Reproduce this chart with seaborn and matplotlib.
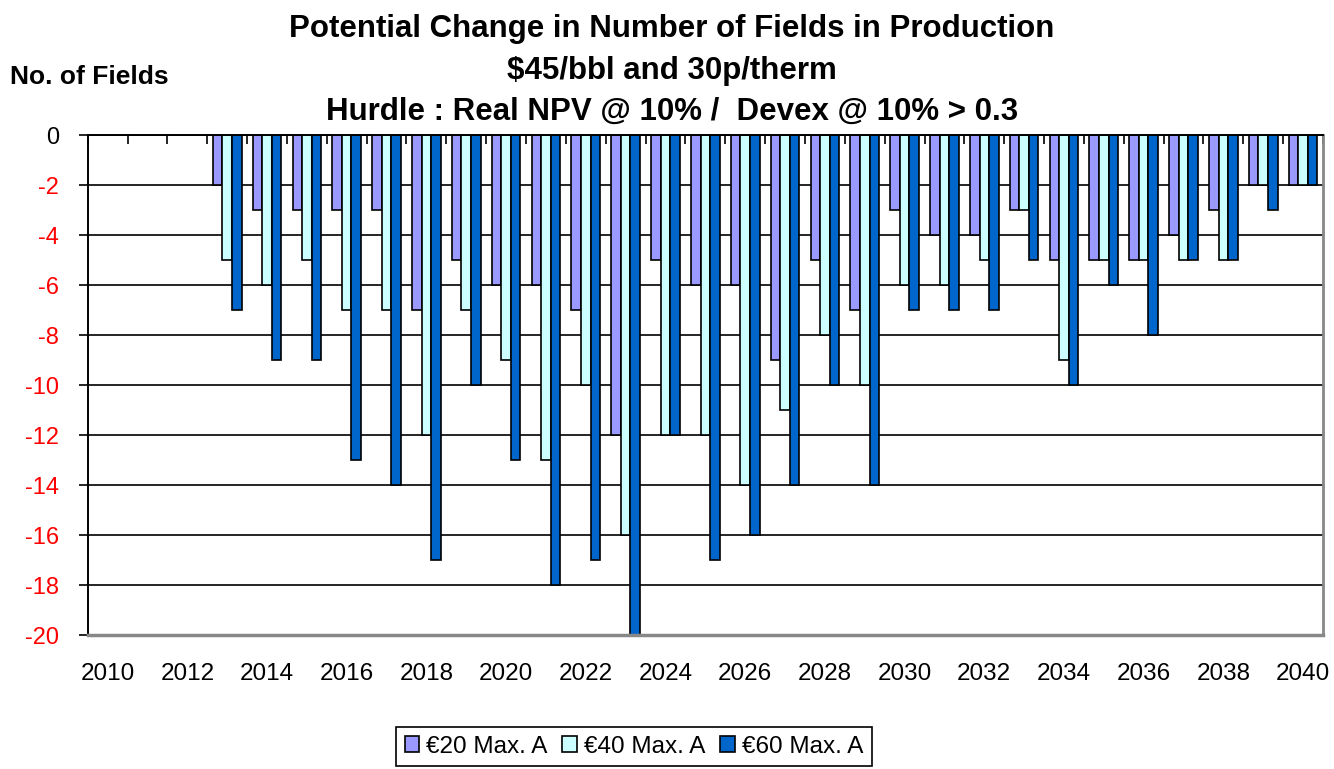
"""Potential change in number of fields in production, three price cases."""

import matplotlib

matplotlib.use("Agg")
import matplotlib.pyplot as plt
import numpy as np
import pandas as pd
import seaborn as sns

YEARS = list(range(2010, 2041))
SERIES = ["€20 Max. A", "€40 Max. A", "€60 Max. A"]
EUR20 = [0, 0, 0, -2, -3, -3, -3, -3, -7, -5, -6, -6, -7, -12, -5, -6,
         -6, -9, -5, -7, -3, -4, -4, -3, -5, -5, -5, -4, -3, -2, -2]
EUR40 = [0, 0, 0, -5, -6, -5, -7, -7, -12, -7, -9, -13, -10, -16, -12, -12,
         -14, -11, -8, -10, -6, -6, -5, -3, -9, -5, -5, -5, -5, -2, -2]
EUR60 = [0, 0, 0, -7, -9, -9, -13, -14, -17, -10, -13, -18, -17, -20, -12, -17,
         -16, -14, -10, -14, -7, -7, -7, -5, -10, -6, -8, -5, -5, -3, -2]
Y_TICKS = list(range(0, -21, -2))
COLORS = ["#9999FF", "#CCFFFF", "#0066CC"]


def main() -> None:
    sns.set_theme(style="white")
    plt.rcParams["font.family"] = ["Liberation Sans", "DejaVu Sans"]
    plt.rcParams.update({"text.color": "black", "xtick.color": "black",
                         "ytick.color": "black", "axes.labelcolor": "black"})

    frames = []
    for name, values in zip(SERIES, [EUR20, EUR40, EUR60]):
        frames.append(pd.DataFrame({"Year": YEARS, "Series": name, "Fields": values}))
    data = pd.concat(frames, ignore_index=True)

    fig = plt.figure(figsize=(13.34, 7.69), dpi=100)
    ax = fig.add_axes([87.7 / 1334, 1 - 635 / 769, (1323 - 87.7) / 1334, 500 / 769])

    sns.barplot(data=data, x="Year", y="Fields", hue="Series", palette=COLORS,
                width=0.72, edgecolor="black", linewidth=1.2, errorbar=None,
                saturation=1, ax=ax)

    ax.set_xlim(-0.5, len(YEARS) - 0.5)
    ax.set_ylim(-20, 0)
    ax.set_xlabel("")
    ax.set_ylabel("")

    # horizontal gridlines every 2 fields
    ax.set_yticks(Y_TICKS)
    ax.set_yticklabels([str(v) for v in Y_TICKS], fontsize=17)
    for lab, v in zip(ax.get_yticklabels(), Y_TICKS):
        lab.set_color("black" if v == 0 else "red")
    ax.yaxis.grid(True, color="black", linewidth=1.2)
    ax.set_axisbelow(True)
    ax.tick_params(axis="y", left=True, direction="out", length=6.5, width=1.2,
                   color="black", pad=14)

    ax.set_xticks(range(0, len(YEARS), 2))
    ax.set_xticklabels([str(y) for y in YEARS[::2]], fontsize=17.5)
    ax.set_xticks(np.arange(-0.5, len(YEARS), 1), minor=True)
    ax.tick_params(axis="x", which="major", bottom=True, top=False, length=0, pad=20)
    ax.tick_params(axis="x", which="minor", bottom=False, top=True, direction="in",
                   length=6.5, width=1.2, color="black")

    for side in ["left", "top"]:
        ax.spines[side].set_color("black")
        ax.spines[side].set_linewidth(1.4)
    ax.spines["bottom"].set_color("#888888")
    ax.spines["bottom"].set_linewidth(2.5)
    ax.spines["right"].set_color("#888888")
    ax.spines["right"].set_linewidth(2.0)

    handles, labels = ax.get_legend_handles_labels()
    ax.get_legend().remove()
    leg = fig.legend(handles, labels, loc="upper center", ncol=3,
                     bbox_to_anchor=(634 / 1334, 1 - 727 / 769), fontsize=17.5,
                     frameon=True, fancybox=False, edgecolor="black", framealpha=1,
                     handlelength=0.6, handleheight=0.6, handletextpad=0.3,
                     columnspacing=0.6, borderpad=0.35, borderaxespad=0)
    leg.get_frame().set_linewidth(1.2)

    cx = 672 / 1334
    titles = ["Potential Change in Number of Fields in Production",
              "$45/bbl and 30p/therm",
              "Hurdle : Real NPV @ 10% /  Devex @ 10% > 0.3"]
    for text, base in zip(titles, [37, 79, 120]):
        fig.text(cx, 1 - base / 769, text, ha="center", va="baseline",
                 fontsize=22.5, fontweight="bold")
    fig.text(10 / 1334, 1 - 84 / 769, "No. of Fields", ha="left", va="baseline",
             fontsize=19, fontweight="bold")

    fig.savefig("out.png", dpi=100)
    plt.close(fig)


if __name__ == "__main__":
    main()
